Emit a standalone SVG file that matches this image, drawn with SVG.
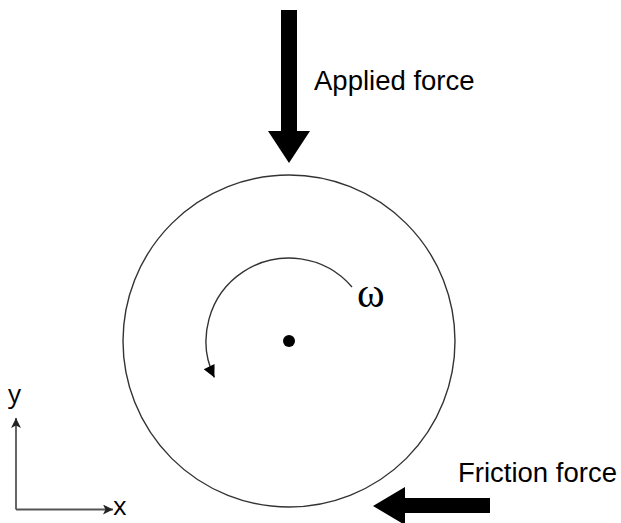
<svg xmlns="http://www.w3.org/2000/svg" width="621" height="523" viewBox="0 0 621 523">
<style>
.lbl{font-family:"Liberation Sans",Arial,sans-serif;font-size:27.5px;fill:#000}
.ax{font-family:"Open Sans","DejaVu Sans",sans-serif;font-size:26px;fill:#000}
.thin{fill:none;stroke:#333;stroke-width:1.4}
.axis{fill:none;stroke:#555;stroke-width:1.8}
.big{fill:#000}
</style>
<defs>
<marker id="rot" viewBox="0 0 10 10" refX="10" refY="5" markerWidth="14" markerHeight="12" markerUnits="userSpaceOnUse" orient="auto">
<path d="M0,0 L10,5 L0,10 z" fill="#000"/>
</marker>
<marker id="axh" viewBox="0 0 10 10" refX="10" refY="5" markerWidth="10" markerHeight="10" markerUnits="userSpaceOnUse" orient="auto">
<path d="M0,0 L10,5 L0,10 L2.5,5 z" fill="#222"/>
</marker>
</defs>
<rect width="621" height="523" fill="#fff"/>
<g id="wheel">
<circle cx="289" cy="341" r="166" class="thin"/>
<circle cx="289" cy="341" r="6" fill="#000"/>
</g>
<g id="applied-force">
<polygon class="big" points="281,10 297,10 297,131 310,131 289,163 268,131 281,131"/>
<text class="lbl" x="314" y="90">Applied force</text>
</g>
<g id="friction-force">
<polygon class="big" points="490,498 490,513 405,513 405,525 373,506 405,487 405,498"/>
<text class="lbl" x="458" y="482">Friction force</text>
</g>
<g id="rotation">
<text x="357" y="307" style="font-family:'Liberation Serif','Times New Roman',serif;font-size:42px;fill:#000">ω</text>
</g>
<g id="axes">
<text class="ax" x="8" y="403">y</text>
<text class="ax" x="113" y="515">x</text>
</g>
<g id="connectors">
<path class="thin" d="M352,287 A83,83 0 0 0 214.4,377.4" marker-end="url(#rot)"/>
<path class="axis" d="M16,509.5 L16,418" marker-end="url(#axh)"/>
<path class="axis" d="M16,509.5 L113,509.5" marker-end="url(#axh)"/>
</g>
</svg>
